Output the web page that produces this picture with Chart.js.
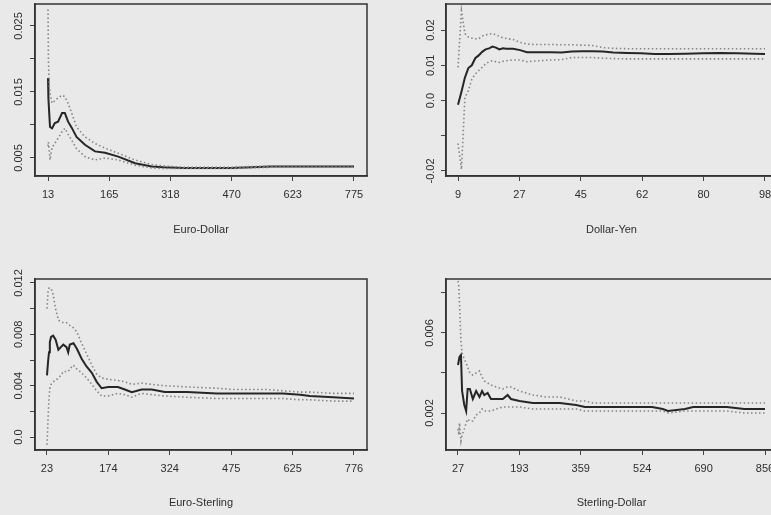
<!DOCTYPE html>
<html>
<head>
<meta charset="utf-8">
<script src="https://cdn.jsdelivr.net/npm/chart.js@4/dist/chart.umd.min.js"></script>
<style>
  html, body { margin:0; padding:0; background:#e9e9e9; width:771px; height:515px; overflow:hidden; }
  canvas { position:absolute; }
</style>
</head>
<body>
<canvas id="c1" width="385" height="255" style="left:0px;top:0px"></canvas>
<canvas id="c2" width="410" height="255" style="left:385px;top:0px"></canvas>
<canvas id="c3" width="385" height="260" style="left:0px;top:255px"></canvas>
<canvas id="c4" width="410" height="260" style="left:385px;top:255px"></canvas>
<script>
// ---------- Euro-Dollar ----------
const edX   = [13,14,16,18,23,30,38,48,55,63,72,84,105,130,155,188,230,271,300,350,420,470,520,570,623,700,775];
const edMid = [0.0171,0.0140,0.0118,0.0097,0.0095,0.0103,0.0105,0.0118,0.0118,0.0105,0.0096,0.0082,0.0070,0.0060,0.0058,0.0052,0.0042,0.0037,0.0036,0.0035,0.0035,0.0035,0.0036,0.0037,0.0037,0.0037,0.0037];
const edUp  = [0.0275,0.0200,0.0160,0.0148,0.0133,0.0137,0.0141,0.0145,0.0143,0.0133,0.0118,0.0097,0.0082,0.0072,0.0065,0.0057,0.0047,0.0040,0.0038,0.0036,0.0036,0.0036,0.0037,0.0038,0.0038,0.0038,0.0038];
const edLo  = [0.0068,0.0074,0.0062,0.0047,0.0066,0.0072,0.0080,0.0090,0.0095,0.0086,0.0077,0.0064,0.0052,0.0047,0.0050,0.0047,0.0039,0.0035,0.0034,0.0034,0.0034,0.0034,0.0035,0.0036,0.0036,0.0036,0.0036];
const edXTickPos = [13,165.4,317.8,470.2,622.6,775];
const edXTickLabels = ['13','165','318','470','623','775'];
const edYTicks = [0.005,0.010,0.015,0.020,0.025];
const edYLabels = ['0.005','','0.015','','0.025'];

// ---------- Dollar-Yen ----------
const dyX   = [9,10,11,12,13,14,15,16,17,18,19,20,21,22,23,25,27,29,31,33,36,39,42,45,48,51,54,58,62,66,70,75,80,85,90,95,98];
const dyMid = [-0.0012,0.0025,0.0065,0.0092,0.0100,0.0120,0.0128,0.0138,0.0145,0.0148,0.0153,0.0150,0.0145,0.0148,0.0147,0.0147,0.0143,0.0137,0.0137,0.0137,0.0137,0.0136,0.0139,0.0140,0.0140,0.0139,0.0136,0.0135,0.0134,0.0132,0.0132,0.0133,0.0134,0.0135,0.0134,0.0133,0.0132];
const dyUp  = [0.0094,0.0255,0.0190,0.0180,0.0177,0.0175,0.0175,0.0183,0.0186,0.0188,0.0190,0.0186,0.0182,0.0178,0.0176,0.0173,0.0165,0.0160,0.0159,0.0159,0.0159,0.0158,0.0158,0.0157,0.0156,0.0150,0.0148,0.0147,0.0147,0.0147,0.0147,0.0147,0.0147,0.0147,0.0147,0.0147,0.0147];
const dyLo  = [-0.0122,-0.0195,0.0008,0.0028,0.0060,0.0075,0.0085,0.0094,0.0104,0.0110,0.0113,0.0110,0.0108,0.0111,0.0113,0.0115,0.0115,0.0110,0.0112,0.0113,0.0115,0.0116,0.0122,0.0122,0.0122,0.0120,0.0119,0.0118,0.0118,0.0118,0.0118,0.0118,0.0118,0.0118,0.0118,0.0118,0.0118];
const dyXTickPos = [9,26.8,44.6,62.4,80.2,98];
const dyXTickLabels = ['9','27','45','62','80','98'];
const dyYTicks = [-0.02,-0.01,0,0.01,0.02];
const dyYLabels = ['-0.02','','0.0','0.01','0.02'];

// ---------- Euro-Sterling ----------
const esX   = [23,26,28,30,33,38,44,51,57,63,71,75,79,88,96,108,120,133,145,157,173,197,214,231,255,280,312,366,440,479,563,602,644,668,725,776];
const esMid = [0.0048,0.0060,0.0066,0.0074,0.0078,0.0079,0.0076,0.0068,0.0070,0.0072,0.0070,0.0066,0.0072,0.0073,0.0069,0.0061,0.0055,0.0050,0.0043,0.0038,0.0039,0.0039,0.0037,0.0035,0.0037,0.0037,0.0035,0.0035,0.0034,0.0034,0.0034,0.0034,0.0033,0.0032,0.0031,0.0030];
const esUp  = [0.0100,0.0115,0.0116,0.0116,0.0116,0.0111,0.0100,0.0091,0.0090,0.0089,0.0089,0.0088,0.0087,0.0085,0.0082,0.0073,0.0065,0.0056,0.0049,0.0046,0.0045,0.0044,0.0043,0.0041,0.0042,0.0041,0.0040,0.0039,0.0038,0.0037,0.0037,0.0036,0.0035,0.0035,0.0034,0.0034];
const esLo  = [-0.0006,0.0017,0.0030,0.0038,0.0041,0.0043,0.0044,0.0046,0.0048,0.0051,0.0051,0.0051,0.0053,0.0056,0.0053,0.0050,0.0046,0.0041,0.0036,0.0032,0.0032,0.0034,0.0033,0.0031,0.0034,0.0033,0.0032,0.0031,0.0030,0.0030,0.0030,0.0030,0.0029,0.0029,0.0028,0.0028];
const esXTickPos = [23,173.6,324.2,474.8,625.4,776];
const esXTickLabels = ['23','174','324','475','625','776'];
const esYTicks = [0,0.002,0.004,0.006,0.008,0.010,0.012];
const esYLabels = ['0.0','','0.004','','0.008','','0.012'];

// ---------- Sterling-Dollar ----------
const sdX   = [27,29,31,35,38,44,49,53,59,67,76,85,92,98,107,116,130,148,161,170,193,229,265,302,346,370,392,459,483,527,551,580,594,640,662,729,753,800,856];
const sdMid = [0.0044,0.0046,0.0048,0.0049,0.0031,0.0024,0.0021,0.0032,0.0032,0.0027,0.0031,0.0028,0.0031,0.0029,0.0030,0.0027,0.0027,0.0027,0.0029,0.0027,0.0026,0.0025,0.0025,0.0025,0.0024,0.0023,0.0023,0.0023,0.0023,0.0023,0.0023,0.0022,0.0021,0.0022,0.0023,0.0023,0.0023,0.0022,0.0022];
const sdUp  = [0.0086,0.0084,0.0075,0.0056,0.0050,0.0047,0.0045,0.0043,0.0040,0.0039,0.0040,0.0041,0.0038,0.0036,0.0035,0.0034,0.0033,0.0032,0.0033,0.0033,0.0031,0.0029,0.0028,0.0028,0.0026,0.0026,0.0025,0.0025,0.0025,0.0025,0.0025,0.0025,0.0025,0.0025,0.0025,0.0025,0.0025,0.0025,0.0025];
const sdLo  = [0.0012,0.0009,0.0015,0.0006,0.0009,0.0012,0.0015,0.0017,0.0016,0.0016,0.0019,0.0020,0.0022,0.0021,0.0021,0.0021,0.0022,0.0023,0.0023,0.0023,0.0023,0.0022,0.0022,0.0022,0.0022,0.0021,0.0021,0.0021,0.0021,0.0021,0.0021,0.0021,0.0020,0.0021,0.0021,0.0021,0.0021,0.0020,0.0020];
const sdXTickPos = [27,192.8,358.6,524.4,690.2,856];
const sdXTickLabels = ['27','193','359','524','690','856'];
const sdYTicks = [0.002,0.004,0.006,0.008];
const sdYLabels = ['0.002','','0.006',''];

// ---------- drawing ----------
const FONT = {family:'"Liberation Sans", Arial, sans-serif', size:11};
const TXT = '#2e2e2e';

const boxPlugin = {
  id:'box',
  afterDatasetsDraw(chart){
    const a = chart.chartArea, ctx = chart.ctx;
    ctx.save();
    ctx.strokeStyle = '#333333';
    ctx.lineWidth = 1.5;
    ctx.strokeRect(a.left, a.top, a.right - a.left, a.bottom - a.top);
    ctx.restore();
  }
};

function pts(xs, ys){ return xs.map((x,i)=>({x:x, y:ys[i]})); }

function makeChart(id, cfg){
  const ctx = document.getElementById(id);
  return new Chart(ctx, {
    type:'line',
    data:{
      datasets:[
        {data:pts(cfg.x, cfg.up), borderColor:'#858585', borderWidth:1.6, borderDash:[1.5,2.5], pointRadius:0, tension:0},
        {data:pts(cfg.x, cfg.lo), borderColor:'#858585', borderWidth:1.6, borderDash:[1.5,2.5], pointRadius:0, tension:0},
        {data:pts(cfg.x, cfg.mid), borderColor:'#262626', borderWidth:2, pointRadius:0, tension:0}
      ]
    },
    options:{
      responsive:false,
      animation:false,
      devicePixelRatio:1,
      layout:{padding:{top:cfg.padTop, right:cfg.padRight, left:0, bottom:0}},
      plugins:{legend:{display:false}, tooltip:{enabled:false}},
      scales:{
        x:{
          type:'linear', min:cfg.xmin, max:cfg.xmax,
          afterBuildTicks(s){ s.ticks = cfg.xTickPos.map(v=>({value:v})); },
          afterFit(s){ s.height = cfg.xAxisH; },
          ticks:{autoSkip:false, maxRotation:0, minRotation:0, padding:7, color:TXT, font:FONT,
                 callback:(v,i)=>cfg.xTickLabels[i]},
          grid:{drawOnChartArea:false, drawTicks:true, tickLength:5, color:'#444444', lineWidth:1},
          border:{display:true, color:'#333333', width:1.5},
          title:{display:true, text:cfg.title, color:TXT, font:FONT, padding:{top:0, bottom:cfg.titlePadB}}
        },
        y:{
          type:'linear', min:cfg.ymin, max:cfg.ymax,
          afterBuildTicks(s){ s.ticks = cfg.yTicks.map(v=>({value:v})); },
          afterFit(s){ s.width = cfg.yAxisW; },
          ticks:{autoSkip:false, minRotation:90, maxRotation:90, crossAlign:'center', padding:-3, color:TXT, font:FONT,
                 callback:(v,i)=>cfg.yLabels[i]},
          grid:{drawOnChartArea:false, drawTicks:true, tickLength:5, color:'#444444', lineWidth:1},
          border:{display:true, color:'#333333', width:1.5}
        }
      }
    },
    plugins:[boxPlugin]
  });
}

makeChart('c1', {x:edX, mid:edMid, up:edUp, lo:edLo, xmin:-19.4, xmax:807.4, ymin:0.00227, ymax:0.02833,
  xTickPos:edXTickPos, xTickLabels:edXTickLabels, yTicks:edYTicks, yLabels:edYLabels,
  title:'Euro-Dollar', padTop:4, padRight:18, xAxisH:79, yAxisW:35, titlePadB:18});
makeChart('c2', {x:dyX, mid:dyMid, up:dyUp, lo:dyLo, xmin:5.52, xmax:101.48, ymin:-0.02142, ymax:0.02738,
  xTickPos:dyXTickPos, xTickLabels:dyXTickLabels, yTicks:dyYTicks, yLabels:dyYLabels,
  title:'Dollar-Yen', padTop:4, padRight:18, xAxisH:79, yAxisW:61, titlePadB:18});
makeChart('c3', {x:esX, mid:esMid, up:esUp, lo:esLo, xmin:-6.4, xmax:807.9, ymin:-0.00101, ymax:0.01231,
  xTickPos:esXTickPos, xTickLabels:esXTickLabels, yTicks:esYTicks, yLabels:esYLabels,
  title:'Euro-Sterling', padTop:24, padRight:18, xAxisH:65, yAxisW:35, titlePadB:5});
makeChart('c4', {x:sdX, mid:sdMid, up:sdUp, lo:sdLo, xmin:-5.4, xmax:888.4, ymin:0.00015, ymax:0.0087,
  xTickPos:sdXTickPos, xTickLabels:sdXTickLabels, yTicks:sdYTicks, yLabels:sdYLabels,
  title:'Sterling-Dollar', padTop:24, padRight:18, xAxisH:65, yAxisW:61, titlePadB:5});
</script>
</body>
</html>
